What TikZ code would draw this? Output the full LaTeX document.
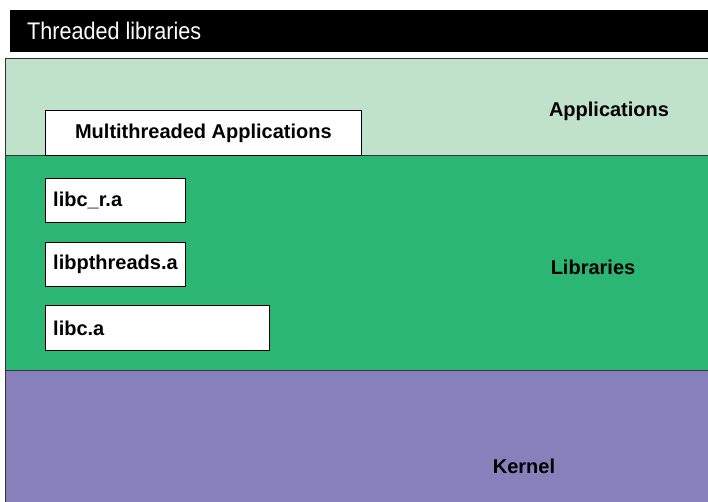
\documentclass[tikz,border=0pt]{standalone}
\usepackage{fontspec}
\setmainfont{Liberation Sans}
\newfontfamily\cond[FakeStretch=0.9]{Liberation Sans}
\newfontfamily\boldcond{Liberation Sans}
\definecolor{appcol}{HTML}{C0E2CA}
\definecolor{libcol}{HTML}{2BB673}
\definecolor{kercol}{HTML}{8780BA}
\definecolor{edgecol}{HTML}{333333}
\tikzset{
  layer/.style={anchor=north west, inner sep=0pt, draw=edgecol, line width=1pt},
  libbox/.style={anchor=north west, inner sep=0pt, draw=black, line width=0.8pt, fill=white},
  boxtext/.style={font=\boldcond\bfseries\fontsize{20}{20}\selectfont, text=black, inner sep=0pt},
  layertext/.style={font=\boldcond\bfseries\fontsize{20}{20}\selectfont, text=black, inner sep=0pt},
}
\begin{document}
\begin{tikzpicture}[x=1pt,y=-1pt]
\useasboundingbox (0,0) rectangle (708,501);
\fill[white] (0,0) rectangle (708,501);
% title bar
\node[anchor=north west, inner sep=0pt, fill=black, minimum width=698pt, minimum height=42pt] (title) at (10,10) {};
\node[anchor=west, text=white, inner sep=0pt, font=\cond\fontsize{24}{24}\selectfont] (titletext) at (27,31) {Threaded libraries};
% layers
\node[layer, fill=appcol, minimum width=705pt, minimum height=97pt] (app) at (5,58) {};
\node[layer, fill=libcol, minimum width=705pt, minimum height=215pt] (lib) at (5,155) {};
\node[layer, fill=kercol, minimum width=705pt, minimum height=135pt] (ker) at (5,370) {};
% boxes
\node[libbox, minimum width=316pt, minimum height=45pt] (mt) at (45,110) {};
\node[boxtext] at (mt.center) {Multithreaded Applications};
\node[libbox, minimum width=140pt, minimum height=44pt] (libcr) at (45,178) {};
\node[boxtext, anchor=west] at ([xshift=8pt]libcr.west) {libc\_r.a};
\node[libbox, minimum width=140pt, minimum height=44pt] (libpt) at (45,242) {};
\node[boxtext, anchor=west] at ([xshift=8pt]libpt.west) {libpthreads.a};
\node[libbox, minimum width=224pt, minimum height=45pt] (libc) at (45,305) {};
\node[boxtext, anchor=west] at ([xshift=8pt]libc.west) {libc.a};
% layer labels
\node[layertext] (applbl) at (609,111) {Applications};
\node[layertext] (liblbl) at (593,267) {Libraries};
\node[layertext] (kerlbl) at (524,466) {Kernel};
\end{tikzpicture}
\end{document}
